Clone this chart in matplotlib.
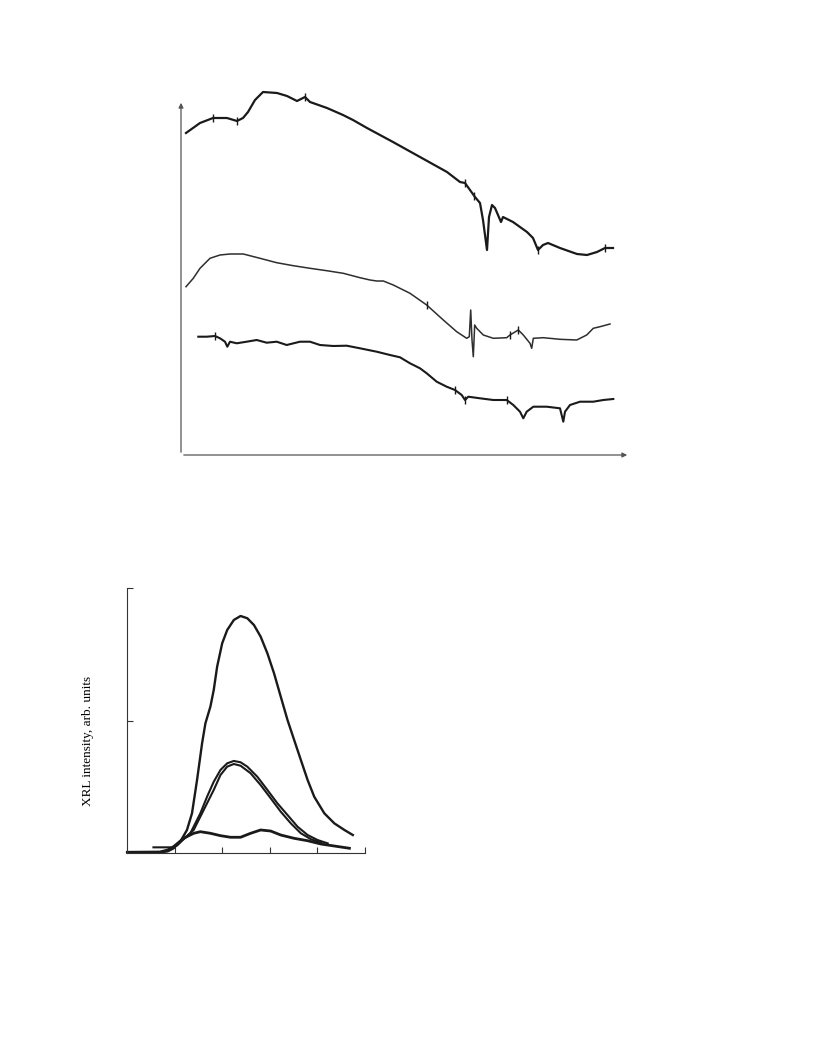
import matplotlib
matplotlib.use("Agg")
import matplotlib.pyplot as plt
import numpy as np

# ---- top panel: three spectra (arbitrary units) ----
c1_x = [5, 19, 32, 46, 56, 62, 67, 74, 82, 96, 106, 116, 124, 129, 146, 162, 172, 186, 212, 239,
        266, 279, 284, 289, 294, 299, 302, 306, 308, 311, 314, 317, 320, 322, 332, 346, 352, 357,
        362, 367, 379, 396, 406, 416, 424, 432]
c1_y = [322, 332, 337, 337, 334, 337, 343, 355, 363, 362, 359, 354, 358, 353, 347, 340, 335, 327, 313, 298,
        283, 273, 272, 265, 258, 252, 235, 205, 238, 250, 247, 240, 233, 238, 233, 223, 217, 205,
        210, 212, 207, 201, 200, 203, 207, 207]
c1_marks_x = [32, 56, 124, 284, 293, 357, 424]

c2_x = [5, 12.3, 19, 29, 39, 49, 62.3, 79, 95.7, 112.3, 129, 145.7, 162.3, 179, 189, 195.7, 202.3,
        212.3, 229, 245.7, 262.3, 275.7, 285.7, 288.3, 289.7, 291, 292.3, 293.7, 295.7, 302.3, 312.3,
        325.7, 329, 337.3, 342.3, 349, 350.7, 352.3, 362.3, 379, 395.7, 405.7, 412.3, 419, 429]
c2_y = [168.3, 176.7, 186.7, 196.7, 200, 201, 201, 196.7, 192.3, 189.3, 186.7, 184.3, 181.7, 177.3, 175, 174, 174,
        170, 161.7, 150, 135, 123.3, 116.7, 118.3, 145, 115, 98.3, 130, 126.7, 120, 116.7,
        117.3, 120, 125, 120, 111.7, 106.7, 116.7, 117.3, 115.7, 115, 120, 126.7, 128.3, 131]
c2_marks_x = [245.7, 329, 337.3]

c3_x = [17.3, 25.7, 34, 39, 44, 46.3, 49, 55.7, 65.7, 75.7, 85.7, 95.7, 105.7, 119, 129, 139, 152.3,
        165.7, 179, 195.7, 209, 219, 229, 239, 245.7, 255.7, 265.7, 274, 280.7, 284, 287.3, 299,
        312.3, 325.7, 332.3, 339, 342.3, 345.7, 352.3, 365.7, 379, 382.3, 384, 389, 399, 412.3,
        422.3, 432.3]
c3_y = [118.3, 118.3, 119, 116.7, 113.3, 108.3, 113.3, 111.7, 113.3, 115, 112.3, 113.3, 110, 113.3, 113.3, 110, 109,
        109.3, 106.7, 103.3, 100, 97.7, 91.7, 86.7, 81.7, 73.3, 68.3, 65, 60, 55, 58.3, 56.7,
        55, 55, 50, 43.3, 36.7, 43.3, 48.3, 48.3, 46.7, 33.3, 43.3, 50, 53.3, 53.3,
        55, 56]
c3_marks_x = [34, 274, 284, 325.7]

# ---- bottom panel: XRL spectra ----
big_x = [0, 0.69, 0.85, 0.973, 1.114, 1.255, 1.361, 1.467, 1.573, 1.643, 1.748, 1.818, 1.890, 1.996,
         2.101, 2.241, 2.383, 2.524, 2.664, 2.805, 2.947, 3.087, 3.228, 3.370, 3.510, 3.651, 3.793,
         3.932, 4.144, 4.355, 4.567, 4.744]
big_y = [0.008, 0.008, 0.015, 0.038, 0.088, 0.176, 0.302, 0.553, 0.830, 0.981, 1.107, 1.232, 1.409, 1.585,
         1.685, 1.761, 1.791, 1.774, 1.723, 1.635, 1.509, 1.358, 1.182, 1.006, 0.855, 0.704, 0.553,
         0.427, 0.302, 0.226, 0.176, 0.138]

mid_a_x = [0.55, 0.95, 1.05, 1.15, 1.326, 1.537, 1.678, 1.818, 1.960, 2.101, 2.241, 2.383, 2.524, 2.735,
           2.947, 3.158, 3.370, 3.581, 3.793, 4.004, 4.215]
mid_a_y = [0.045, 0.045, 0.06, 0.095, 0.151, 0.302, 0.427, 0.540, 0.629, 0.679, 0.697, 0.687, 0.654, 0.578,
           0.478, 0.377, 0.289, 0.201, 0.138, 0.100, 0.075]

mid_b_x = [0.69, 0.85, 0.973, 1.114, 1.255, 1.396, 1.607, 1.818, 1.960, 2.101, 2.241, 2.383, 2.594, 2.805,
           3.017, 3.228, 3.440, 3.651, 3.863, 4.074]
mid_b_y = [0.010, 0.018, 0.040, 0.088, 0.130, 0.176, 0.327, 0.478, 0.591, 0.654, 0.674, 0.661, 0.604,
           0.515, 0.415, 0.314, 0.226, 0.151, 0.106, 0.080]

low_x = [0, 0.691, 0.85, 0.973, 1.184, 1.396, 1.537, 1.748, 1.960, 2.171, 2.383, 2.594, 2.805, 3.017,
         3.228, 3.510, 3.793, 4.074, 4.355, 4.672]
low_y = [0.008, 0.010, 0.025, 0.050, 0.113, 0.151, 0.163, 0.151, 0.133, 0.121, 0.121, 0.151, 0.176,
         0.168, 0.138, 0.113, 0.095, 0.070, 0.055, 0.038]

W, H = 816, 1056
fig = plt.figure(figsize=(W / 100, H / 100), dpi=100)

# top panel
ax1 = fig.add_axes([181 / W, 1 - 455 / H, 449 / W, 355 / H])
ax1.set_xlim(0, 449)
ax1.set_ylim(0, 355)
for s in ax1.spines.values():
    s.set_visible(False)
ax1.set_xticks([])
ax1.set_yticks([])
ax1.patch.set_alpha(0)
ax1.annotate("", xy=(1, 0), xytext=(0, 0), xycoords="axes fraction",
             arrowprops=dict(arrowstyle="-|>", color="#555555", lw=0.9, mutation_scale=7))
ax1.annotate("", xy=(0, 1), xytext=(0, 0), xycoords="axes fraction",
             arrowprops=dict(arrowstyle="-|>", color="#555555", lw=0.9, mutation_scale=7))

ax1.plot(c1_x, c1_y, color="#1a1a1a", lw=1.6, clip_on=False)
ax1.plot(c2_x, c2_y, color="#2e2e2e", lw=1.1, clip_on=False)
ax1.plot(c3_x, c3_y, color="#1a1a1a", lw=1.5, clip_on=False)

for cx, cy, mx in [(c1_x, c1_y, c1_marks_x), (c2_x, c2_y, c2_marks_x), (c3_x, c3_y, c3_marks_x)]:
    my = np.interp(mx, cx, cy)
    ax1.plot(mx, my, ls="none", marker="|", ms=6, mew=1.0, color="#1a1a1a", clip_on=False)

# bottom panel
ax2 = fig.add_axes([127.3 / W, 1 - 853.3 / H, (365 - 127.3) / W, 265 / H])
ax2.set_xlim(0, 5)
ax2.set_ylim(0, 2)
ax2.spines["top"].set_visible(False)
ax2.spines["right"].set_visible(False)
ax2.spines["left"].set_color("#333333")
ax2.spines["bottom"].set_color("#333333")
ax2.spines["left"].set_linewidth(0.8)
ax2.spines["bottom"].set_linewidth(0.8)
ax2.set_xticks([1, 2, 3, 4, 5])
ax2.set_yticks([1, 2])
ax2.tick_params(direction="in", length=4, width=0.8, color="#333333",
                labelbottom=False, labelleft=False)

ax2.plot(big_x, big_y, color="#1a1a1a", lw=1.7, clip_on=False, solid_joinstyle="round")
ax2.plot(mid_a_x, mid_a_y, color="#1a1a1a", lw=1.5, clip_on=False, solid_joinstyle="round")
ax2.plot(mid_b_x, mid_b_y, color="#1a1a1a", lw=1.5, clip_on=False, solid_joinstyle="round")
ax2.plot(low_x, low_y, color="#1a1a1a", lw=2.0, clip_on=False, solid_joinstyle="round")

fig.text(88 / W, 1 - 741 / H, "XRL intensity, arb. units", rotation=90,
         ha="center", va="center", family="Liberation Serif", fontsize=9.5)

fig.savefig("out.png", dpi=100)
